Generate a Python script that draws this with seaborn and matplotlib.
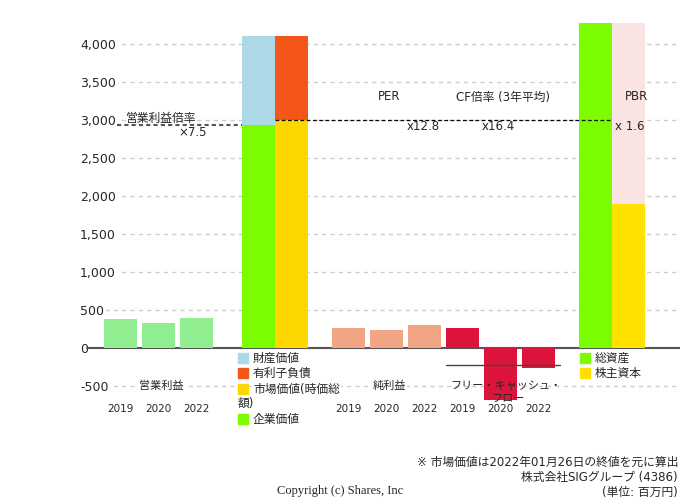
import numpy as np
import pandas as pd
import matplotlib.pyplot as plt
import matplotlib.patches as mpatches
import matplotlib.transforms as mtransforms
import seaborn as sns

sns.set_style("white")
plt.rcParams['font.family'] = ['DejaVu Sans', 'Noto Sans CJK JP']

# ----------------------------
# Data (百万円)
# ----------------------------
years = ["2019", "2020", "2022"]
operating_income = [378, 322, 390]
net_income = [260, 234, 299]
free_cash_flow = [264, -690, -268]
fcf_average = -231

market_cap = 3000       # 市場価値(時価総額)
interest_debt = 1105    # 有利子負債
property_value = 1175   # 財産価値
enterprise_value = market_cap + interest_debt - property_value  # 企業価値

total_assets = 4300     # 総資産
equity = 1894           # 株主資本

op_multiple = "×7.5"
per_label = "x12.8"
cf_label = "x16.4"
pbr_label = "x 1.6"

# ----------------------------
# Layout helpers
# ----------------------------
W, H = 680, 500
BW = 0.868  # bar width in slot units

def px(x):
    # pixel column -> slot units
    return (x - 120.5) / 38.0

fig = plt.figure(figsize=(6.8, 5), dpi=100)
ax = fig.add_axes([80 / W, 100 / H, 600 / W, 377 / H])

def bars(xpos, vals, color):
    sns.barplot(x=xpos, y=vals, native_scale=True, width=BW, color=color,
                saturation=1, errorbar=None, linewidth=0, ax=ax)

op_x = [0, 1, 2]
ni_x = [6, 7, 8]
fcf_x = [9, 10, 11]
ev_x = [4.5 - BW, 4.5]
as_x = [12.5, 12.5 + BW]

bars(op_x, operating_income, "#90ee90")
bars(ni_x, net_income, "#f1a584")
bars(fcf_x, free_cash_flow, "#dc143c")

# enterprise value stacks (overlay)
bars([ev_x[0]], [enterprise_value + property_value], "#add8e6")
bars([ev_x[0]], [enterprise_value], "#7cfc00")
bars([ev_x[1]], [market_cap + interest_debt], "#f4561a")
bars([ev_x[1]], [market_cap], "#ffd700")

# assets
bars([as_x[0]], [total_assets], "#7cfc00")
bars([as_x[1]], [total_assets], "#fae3e3")
bars([as_x[1]], [equity], "#ffe100")

ax.set_xlim(px(80), px(680))
ax.set_ylim(-690, 4281)
ax.set_xlabel("")
ax.set_ylabel("")
ax.set_xticks([])
for s in ax.spines.values():
    s.set_visible(False)

yt = np.arange(-500, 4001, 500)
ax.set_yticks(yt)
ax.set_yticklabels([f"{v:,}" for v in yt])
ax.tick_params(axis='y', length=0, pad=0, labelsize=9)
for lbl in ax.get_yticklabels():
    lbl.set_ha('left')
    lbl.set_bbox(dict(facecolor='white', edgecolor='none', pad=1.5))
ax.set_axisbelow(True)
ax.yaxis.grid(True, linestyle=(0, (3, 3)), color='#cccccc', linewidth=1)

# baseline
ax.axhline(0, xmin=7 / 600, color='#555555', linewidth=1.5, zorder=0.6)

# multiple lines
ax.plot([px(117), ev_x[0] - BW / 2], [enterprise_value, enterprise_value],
        color='#555555', linestyle=(0, (2, 1.5)), linewidth=1.5)
ax.plot([ev_x[1] - BW / 2, as_x[1] - BW / 2], [market_cap, market_cap],
        color='black', linestyle=(0, (3, 2)), linewidth=0.9)
ax.plot([fcf_x[0] - BW / 2, px(560)], [fcf_average, fcf_average],
        color='#444444', linewidth=1)

white = dict(facecolor='white', edgecolor='none', pad=1)

def ftext(x, y, s, ha='center', size=8.5, **kw):
    fig.text(x / W, 1 - y / H, s, ha=ha, va='center', fontsize=size, **kw)

ftext(161, 118, "営業利益倍率")
ftext(193, 132, op_multiple)
ftext(389, 97, "PER")
ftext(503.5, 97, "CF倍率 (3年平均)")
ftext(636.5, 97, "PBR")
ftext(423, 127, per_label)
ftext(498.5, 127, cf_label)
ftext(629.5, 127, pbr_label)

ftext(161, 386, "営業利益", size=8, bbox=white)
ftext(389, 386, "純利益", size=8, bbox=white)
ftext(506, 386, "フリー・キャッシュ・", size=8)
ftext(508, 400, "フロー", size=8)

trans = mtransforms.blended_transform_factory(ax.transData, fig.transFigure)
for xs in (op_x, ni_x, fcf_x):
    for x, yr in zip(xs, years):
        ax.text(x, 1 - 409 / H, yr, transform=trans, ha='center', va='center',
                fontsize=7.5, clip_on=False)

def legend_item(x, y, color, label):
    fig.patches.append(mpatches.Rectangle((x / W, 1 - (y + 5) / H), 10 / W, 10 / H,
                                          color=color, transform=fig.transFigure))
    ftext(x + 15, y, label, ha='left', bbox=white)

legend_item(238, 358, "#add8e6", "財産価値")
legend_item(238, 373, "#f4561a", "有利子負債")
legend_item(238, 389, "#ffd700", "市場価値(時価総")
ftext(238, 403, "額)", ha='left')
legend_item(238, 419, "#7cfc00", "企業価値")
legend_item(580, 358, "#7cfc00", "総資産")
legend_item(580, 373, "#ffe100", "株主資本")

ftext(678, 462, "※ 市場価値は2022年01月26日の終値を元に算出", ha='right')
ftext(678, 478, "株式会社SIGグループ (4386)", ha='right')
ftext(678, 492, "(単位: 百万円)", ha='right')
ftext(340, 491, "Copyright (c) Shares, Inc", size=9, family='Liberation Serif')

fig.savefig("out.png", dpi=100)
